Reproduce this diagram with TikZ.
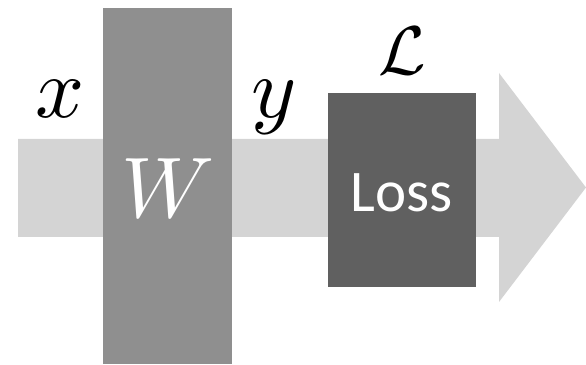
\documentclass[tikz,border=0pt]{standalone}
\usepackage{fontspec}
\newfontfamily\carl{Carlito}
\definecolor{arrowgrey}{HTML}{D4D4D4}
\definecolor{wgrey}{HTML}{8F8F8F}
\definecolor{lossgrey}{HTML}{606060}
\newcommand{\biglabel}[1]{\scalebox{8.6}{$#1$}}
\tikzset{
  blockbox/.style={rectangle, inner sep=0pt, draw=none},
  mathlbl/.style={inner sep=0pt, anchor=base},
  losslbl/.style={inner sep=0pt, anchor=base, text=white, font=\carl\fontsize{59}{64}\selectfont}
}
\begin{document}
\begin{tikzpicture}[x=1pt,y=1pt]
\useasboundingbox (0,0) rectangle (586,364);
% big arrow
\fill[arrowgrey] (18,127) -- (18,225) -- (499,225) -- (499,291) -- (586,176.5) -- (499,62) -- (499,127) -- cycle;
% W block
\node[blockbox, fill=wgrey, minimum width=129pt, minimum height=356pt] (wbox) at (167.5,178) {};
\node[mathlbl, text=white] (wlbl) at (168,146) {\biglabel{W}};
% Loss block
\node[blockbox, fill=lossgrey, minimum width=148pt, minimum height=194pt] (lossbox) at (402,174) {};
\node[losslbl] (losstxt) at (402,152) {Loss};
% labels
\node[mathlbl] (xlbl) at (60,246) {\biglabel{x}};
\node[mathlbl] (ylbl) at (274,246) {\biglabel{y}};
\node[inner sep=0pt, anchor=base] (Llbl) at (402,289) {\scalebox{6.9}{$\mathcal{L}$}};
\end{tikzpicture}
\end{document}
